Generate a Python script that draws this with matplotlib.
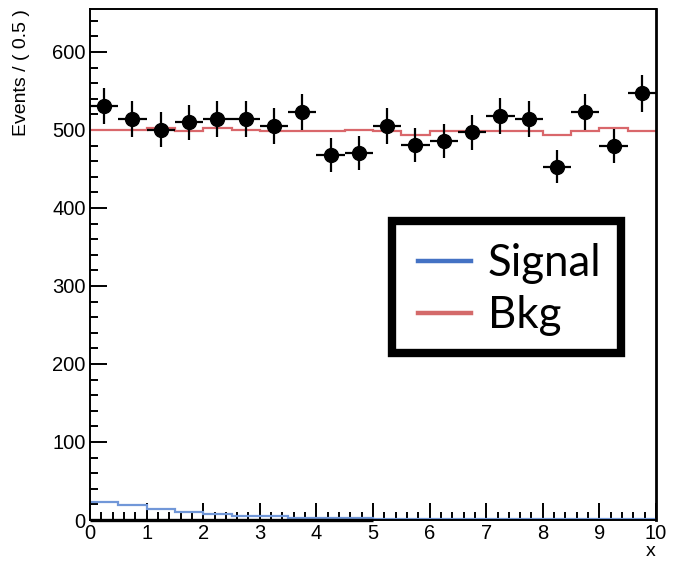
import numpy as np
import matplotlib
matplotlib.use("Agg")
import matplotlib.pyplot as plt
from matplotlib.lines import Line2D
from matplotlib.patches import Rectangle
from matplotlib.ticker import MultipleLocator

# binned observable, 20 bins of width 0.5
bin_edges = np.arange(0.0, 10.01, 0.5)
data_counts = [531, 514, 500, 510, 514, 514, 505, 523, 468, 470,
               505, 481, 486, 497, 518, 514, 453, 523, 479, 547]
bkg_shape = [500, 500, 502.5, 498, 502.5, 500, 498, 498, 498, 500,
             498, 494, 498, 498, 498, 498, 494, 498, 502.5, 498]
sig_shape = [23.5, 19.5, 14.5, 10.5, 7.5, 5.5, 5.5, 2.5, 2.5, 2.5,
             1, 1, 1, 1, 1, 1, 1, 1, 1, 1]
floor_edges = [0.0, 5.0]
floor_level = [0.0]

legend_labels = ["Signal", "Bkg"]

plt.rcParams["font.family"] = ["Liberation Sans", "DejaVu Sans"]

W, H = 675, 562
fig = plt.figure(figsize=(W / 100, H / 100), dpi=100)
ax = fig.add_axes([90 / W, 42 / H, 566 / W, 511 / H])

centers = 0.5 * (bin_edges[:-1] + bin_edges[1:])
half_w = 0.5 * np.diff(bin_edges)
counts = np.array(data_counts, dtype=float)

ax.stairs(bkg_shape, bin_edges, baseline=None, color="#d9676b", lw=1.6, zorder=2)
ax.stairs(sig_shape, bin_edges, baseline=None, color="#7197d8", lw=1.6, zorder=2)
ax.stairs(floor_level, floor_edges, baseline=None, color="black", lw=2.4,
          zorder=3, clip_on=False)
ax.errorbar(centers, counts, xerr=half_w, yerr=np.sqrt(counts), fmt="o",
            color="black", ms=10, elinewidth=1.6, capsize=0, zorder=4)

ax.set_xlim(0, 10)
ax.set_ylim(0, 655)
ax.xaxis.set_major_locator(MultipleLocator(1))
ax.xaxis.set_minor_locator(MultipleLocator(0.2))
ax.yaxis.set_major_locator(MultipleLocator(100))
ax.yaxis.set_minor_locator(MultipleLocator(20))
ax.tick_params(which="both", direction="in", top=False, right=False,
               width=1.4, labelsize=14.5, pad=3)
ax.tick_params(which="major", length=12)
ax.tick_params(which="minor", length=6)
for sp in ax.spines.values():
    sp.set_linewidth(1.4)
ax.spines["right"].set_linewidth(2)

ax.set_ylabel("Events / ( 0.5 )", fontsize=14, loc="top")
ax.yaxis.set_label_coords(-0.106, 1.0)
ax.set_xlabel("x", fontsize=14, loc="right")
ax.xaxis.set_label_coords(1.0, -0.045)

# legend entries without frame, box drawn separately
handles = [Line2D([], [], color="#4472c4", lw=3.2),
           Line2D([], [], color="#d46a6a", lw=3.2)]
leg = ax.legend(handles, legend_labels, loc="upper left",
                bbox_to_anchor=(418 / W, 1 - 243 / H),
                bbox_transform=fig.transFigure, borderaxespad=0,
                borderpad=0, prop=dict(family="Lato", size=31.5),
                handlelength=1.2, handletextpad=0.4, labelspacing=0.26,
                frameon=False)
box = Rectangle((392 / W, 1 - 353 / H), 229 / W, 132 / H,
                transform=fig.transFigure, fill=False, edgecolor="black",
                lw=6, joinstyle="miter", zorder=5)
fig.patches.append(box)

fig.savefig("out.png", dpi=100)
